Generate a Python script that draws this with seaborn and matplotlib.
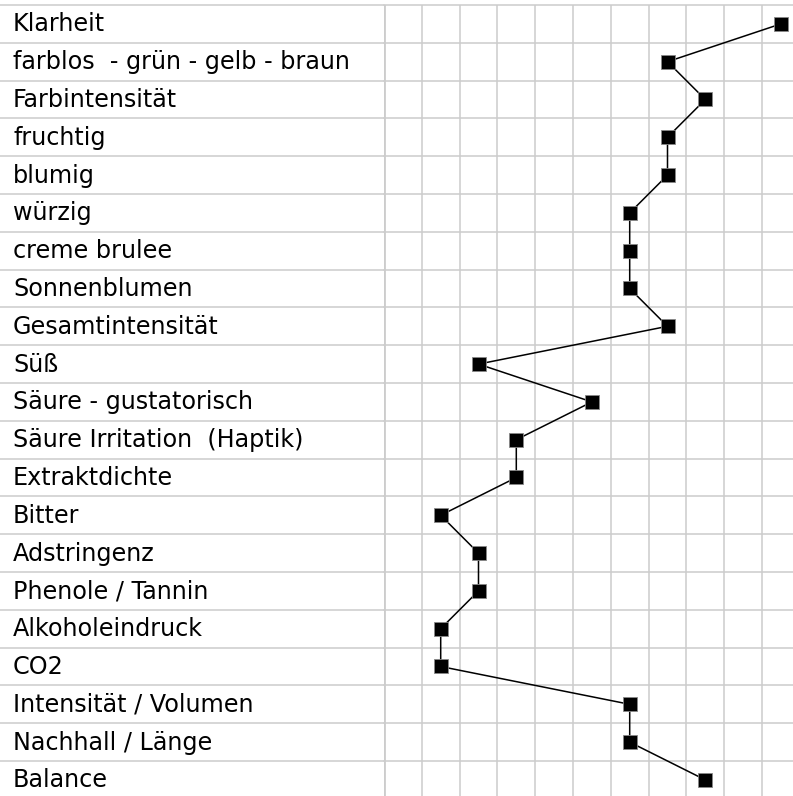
import numpy as np
import pandas as pd
import matplotlib
matplotlib.use("Agg")
import matplotlib.pyplot as plt
import seaborn as sns

# attributes (rows, top to bottom) and scale positions (0..10)
attributes = [
    "Klarheit", "farblos  - grün - gelb - braun", "Farbintensität", "fruchtig",
    "blumig", "würzig", "creme brulee", "Sonnenblumen", "Gesamtintensität",
    "Süß", "Säure - gustatorisch", "Säure Irritation  (Haptik)", "Extraktdichte",
    "Bitter", "Adstringenz", "Phenole / Tannin", "Alkoholeindruck", "CO2",
    "Intensität / Volumen", "Nachhall / Länge", "Balance",
]
scores = [10, 7, 8, 7, 7, 6, 6, 6, 7, 2, 5, 3, 3, 1, 2, 2, 1, 1, 6, 6, 8]
n_cols = 11

df = pd.DataFrame({"attribute": attributes, "score": scores,
                   "row": np.arange(len(attributes))})

sns.set_style("white")
plt.rcParams["font.family"] = ["DejaVu Sans"]

W, H = 793, 796
fig = plt.figure(figsize=(W / 100, H / 100), dpi=100)

cell = 37.8
top_px = 5
n_rows = len(attributes)
bottom_px = top_px + n_rows * cell
y0 = 1 - bottom_px / H
hgt = (bottom_px - top_px) / H
split_px = 384

grid_col = "#cccccc"

# label column
ax_l = fig.add_axes([0, y0, split_px / W, hgt])
ax_l.set_xlim(0, 1)
ax_l.set_ylim(n_rows - 0.5, -0.5)
for i, lab in enumerate(attributes):
    ax_l.text(13 / split_px, i + 0.2, lab, va="baseline", ha="left",
              fontsize=17.2, color="black")
for b in np.arange(-0.5, n_rows + 0.5):
    ax_l.axhline(b, color=grid_col, lw=1.1, clip_on=False)
ax_l.axis("off")

# profile grid
ax = fig.add_axes([split_px / W, y0, n_cols * cell / W, hgt])
sns.lineplot(data=df, x="score", y="row", sort=False, estimator=None,
             color="black", lw=1.1, marker="s", markersize=10.2,
             markeredgecolor="#888888", markeredgewidth=0.6, ax=ax)
ax.set_xlim(-0.5, n_cols - 0.5)
ax.set_ylim(n_rows - 0.5, -0.5)
for b in np.arange(-0.5, n_rows + 0.5):
    ax.axhline(b, color=grid_col, lw=1.1, zorder=0, clip_on=False)
for b in np.arange(-0.5, n_cols + 0.5):
    ax.axvline(b, color=grid_col, lw=2.0 if b == -0.5 else 1.1, zorder=0)
ax.set_xticks([])
ax.set_yticks([])
ax.set_xlabel("")
ax.set_ylabel("")
for s in ax.spines.values():
    s.set_visible(False)
if ax.get_legend():
    ax.get_legend().remove()

fig.savefig("out.png", dpi=100)
